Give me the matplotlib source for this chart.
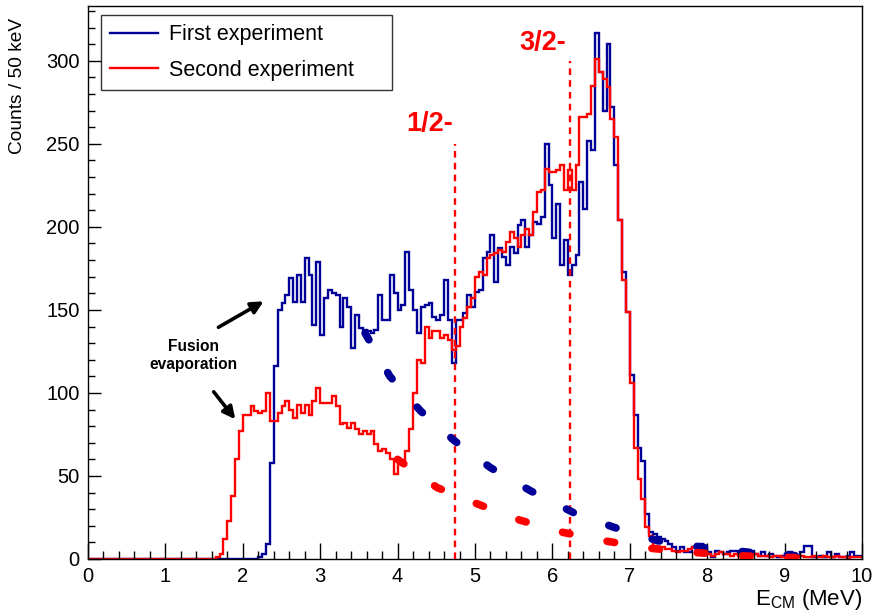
import numpy as np
import matplotlib.pyplot as plt

plt.rcParams['font.family'] = ['Liberation Sans', 'DejaVu Sans']
plt.rcParams['mathtext.fontset'] = 'custom'
plt.rcParams['mathtext.rm'] = 'Liberation Sans'

# Histograms, 50 keV bins from 0 to 10 MeV (one row = 1 MeV)
bin_width = 0.05

first_counts = (
    [0] * 20 +
    [0] * 20 +
    [0, 0, 0, 0, 1, 3, 9, 58, 116, 150, 154, 159, 169, 155, 171, 155, 181, 171, 141, 179] +
    [135, 157, 162, 160, 159, 140, 157, 152, 127, 147, 139, 138, 137, 136, 138, 159, 144, 144, 171, 160] +
    [150, 153, 185, 162, 150, 136, 152, 153, 154, 146, 144, 147, 168, 144, 118, 144, 144, 148, 159, 152] +
    [161, 162, 181, 185, 195, 167, 187, 182, 177, 188, 184, 201, 204, 188, 195, 203, 202, 206, 250, 225] +
    [193, 214, 177, 192, 171, 177, 183, 227, 211, 252, 246, 317, 293, 270, 310, 272, 237, 204, 173, 149] +
    [111, 87, 67, 59, 27, 16, 15, 13, 12, 11, 9, 7, 5, 7, 4, 4, 7, 8, 9, 6] +
    [4, 1, 5, 4, 3, 4, 5, 5, 4, 2, 3, 5, 3, 2, 4, 2, 3, 2, 1, 2] +
    [3, 4, 3, 2, 4, 8, 8, 1, 1, 2, 1, 4, 1, 3, 1, 1, 2, 4, 2, 2]
)

second_counts = (
    [0] * 20 +
    [0] * 13 + [1, 3, 12, 23, 38, 60, 77] +
    [87, 87, 92, 89, 88, 89, 100, 83, 83, 88, 92, 95, 90, 85, 93, 88, 93, 87, 95, 103] +
    [94, 94, 94, 98, 92, 81, 82, 79, 82, 78, 75, 77, 75, 77, 69, 65, 66, 64, 60, 51] +
    [57, 59, 65, 78, 100, 120, 118, 140, 133, 137, 137, 133, 135, 132, 126, 128, 140, 145, 152, 157] +
    [170, 173, 171, 181, 183, 184, 186, 185, 191, 197, 193, 188, 195, 199, 195, 209, 221, 222, 235, 233] +
    [233, 234, 237, 222, 234, 222, 237, 266, 266, 268, 285, 301, 293, 289, 284, 265, 254, 204, 168, 149] +
    [106, 67, 48, 36, 19, 14, 8, 7, 7, 6, 6, 5, 4, 5, 5, 6, 7, 4, 3, 4] +
    [3, 2, 3, 4, 3, 3, 2, 3, 2, 3, 3, 2, 3, 2, 2, 2, 1, 2, 2, 1] +
    [2, 1, 2, 1, 2, 1, 1, 2, 1, 1, 2, 1, 1, 2, 1, 1, 0, 1, 1, 1]
)

# Background curves
first_bkg_e = [3.58, 3.90, 4.30, 4.74, 5.20, 5.72, 6.27, 6.80, 7.36, 7.95, 8.55, 9.15]
first_bkg_y = [136, 110, 89, 71, 55, 41, 28, 19, 11, 7, 4, 2]
second_bkg_e = [4.00, 4.51, 5.04, 5.58, 6.14, 6.69, 7.26, 7.82, 8.40, 8.97, 9.50]
second_bkg_y = [60, 43, 33, 23.4, 16, 10.8, 6.5, 4, 2, 1, 0.5]

# Resonance markers
state_e = [4.74, 6.23]
state_top = [250, 300]
state_labels = ['1/2-', '3/2-']
state_label_pos = [(4.41, 262), (5.87, 311)]

blue = '#000099'
red = '#ff0000'

fig = plt.figure(figsize=(8.73, 6.11), dpi=100)
ax = fig.add_axes([88 / 873, 52 / 611, 774 / 873, 553 / 611])

edges = np.arange(len(first_counts) + 1) * bin_width
ax.stairs(first_counts, edges, color=blue, lw=1.7, baseline=None, label='First experiment')
ax.stairs(second_counts, edges, color=red, lw=1.7, baseline=None, label='Second experiment')

ax.plot(first_bkg_e, first_bkg_y, color=blue, lw=5.5, dashes=(1.0, 4.95),
        dash_capstyle='round', zorder=5)
ax.plot(second_bkg_e, second_bkg_y, color=red, lw=5.5, dashes=(1.0, 4.95),
        dash_capstyle='round', zorder=5)

for e, top, lab, pos in zip(state_e, state_top, state_labels, state_label_pos):
    ax.plot([e, e], [0, top], color=red, lw=1.7, linestyle=(0, (2.8, 2.2)), zorder=4)
    ax.text(pos[0], pos[1], lab, color=red, fontsize=19.5, fontweight='bold',
            ha='center', va='center')

ax.text(1.357, 122.5, 'Fusion\nevaporation', fontsize=11.2, fontweight='bold',
        ha='center', va='center', linespacing=1.2)
ax.annotate('', xy=(2.30, 156), xytext=(1.654, 138.7),
            arrowprops=dict(arrowstyle='-|>', color='black', lw=2.6, mutation_scale=18))
ax.annotate('', xy=(1.925, 82.8), xytext=(1.602, 102),
            arrowprops=dict(arrowstyle='-|>', color='black', lw=2.6, mutation_scale=18))

ax.set_xlim(0, 10)
ax.set_ylim(0, 333)
ax.set_xticks(np.arange(0, 11, 1))
ax.set_xticks(np.arange(0, 10.01, 0.2), minor=True)
ax.set_yticks(np.arange(0, 301, 50))
ax.set_yticks(np.arange(0, 331, 10), minor=True)
ax.tick_params(which='both', direction='in', top=False, right=False, labelsize=14.5)
ax.tick_params(axis='x', which='major', length=11.5, width=1, pad=6)
ax.tick_params(axis='x', which='minor', length=5.8, width=1)
ax.tick_params(axis='y', which='major', length=9, width=1, pad=6)
ax.tick_params(axis='y', which='minor', length=5, width=1)
for sp in ax.spines.values():
    sp.set_linewidth(1)

fig.text(862 / 873, (611 - 599) / 611, r'$\mathregular{E_{CM}}$ (MeV)', fontsize=16,
         ha='right', va='center')
fig.text(18 / 873, (611 - 18) / 611, 'Counts / 50 keV', fontsize=13.8, rotation=90,
         ha='center', va='top')

leg = ax.legend(loc='upper left', bbox_to_anchor=(0.0168, 0.9837, 0.376, 0.0),
                mode='expand', fontsize=15.5, frameon=True, fancybox=False,
                edgecolor='black', borderpad=0.42, labelspacing=0.68,
                handlelength=2.25, handletextpad=0.5, borderaxespad=0.0)
leg.get_frame().set_linewidth(1)

plt.savefig('out.png', dpi=100)
